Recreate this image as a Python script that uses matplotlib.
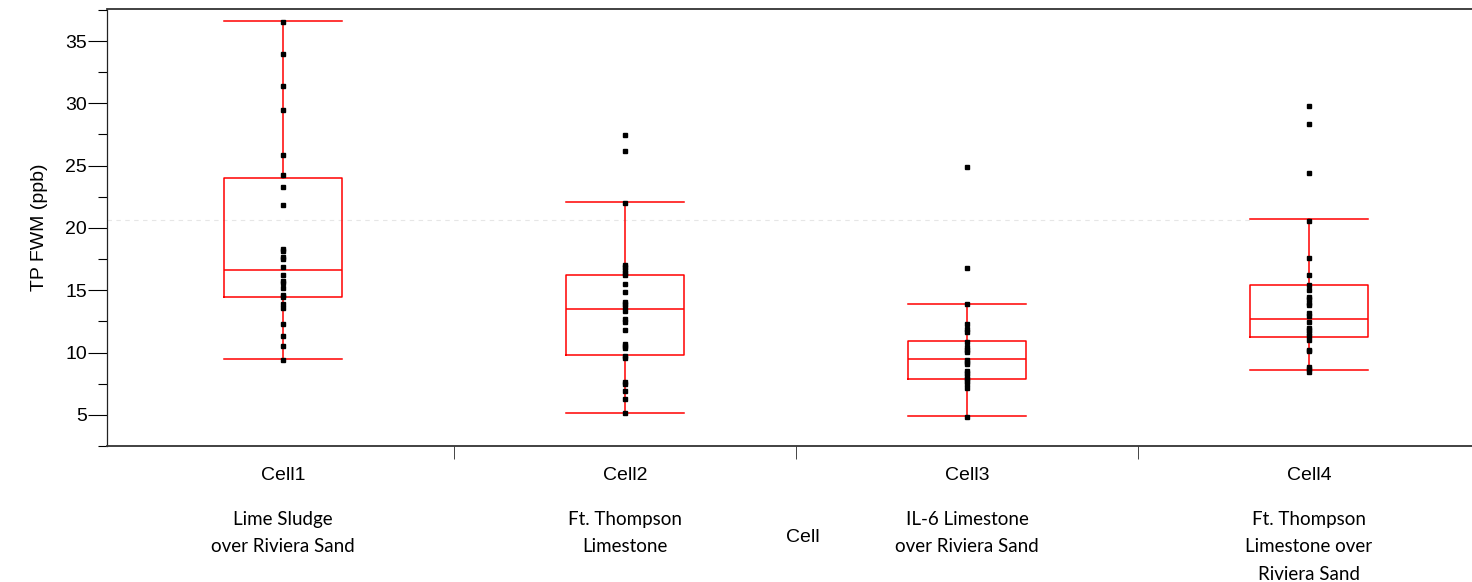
import matplotlib
matplotlib.use('Agg')
import matplotlib.pyplot as plt
import matplotlib.transforms as mtransforms
import numpy as np

plt.rcParams['font.family'] = ['Liberation Sans', 'DejaVu Sans']

# cell names, descriptions and TP values (ppb)
cells = ['Cell1', 'Cell2', 'Cell3', 'Cell4']
descr = ['Lime Sludge\nover Riviera Sand',
         'Ft. Thompson\nLimestone',
         'IL-6 Limestone\nover Riviera Sand',
         'Ft. Thompson\nLimestone over\nRiviera Sand']

cell1 = [36.5, 33.96, 31.39, 29.49, 25.83, 24.23, 23.27, 21.85, 18.30, 18.18, 17.65,
         17.54, 16.90, 16.26, 15.75, 15.62, 15.14, 14.65, 14.49, 13.91, 13.59, 12.31,
         11.34, 10.54, 9.42]
cell2 = [27.44, 26.15, 22.03, 17.06, 16.88, 16.64, 16.42, 16.21, 15.49, 14.85, 14.07,
         13.89, 13.64, 13.37, 12.73, 12.46, 11.82, 10.65, 10.49, 10.33, 9.72, 9.58,
         7.65, 7.49, 6.88, 6.24, 5.11]
cell3 = [24.90, 16.77, 13.88, 12.31, 11.85, 11.66, 10.86, 10.44, 10.22, 10.06, 9.42,
         9.21, 9.05, 8.51, 8.32, 8.12, 7.90, 7.68, 7.47, 7.17, 4.79]
cell4 = [29.8, 28.37, 24.39, 20.59, 17.57, 16.26, 15.46, 14.98, 14.49, 14.33, 14.01,
         13.85, 13.21, 12.97, 12.44, 11.93, 11.77, 11.53, 11.29, 11.00, 10.22, 10.09,
         8.83, 8.70, 8.43]
points = [cell1, cell2, cell3, cell4]

# box summary (whisker low, q1, median, q3, whisker high)
whislo = [9.50, 5.17, 4.87, 8.56]
q1 = [14.44, 9.80, 7.90, 11.24]
med = [16.66, 13.48, 9.47, 12.68]
q3 = [23.99, 16.21, 10.89, 15.41]
whishi = [36.58, 22.09, 13.93, 20.70]

ref_line = 20.65

fig = plt.figure(figsize=(14.72, 5.82), dpi=100)
ax = fig.add_axes([107/1472, 1-446/582, 1-107/1472, 437/582])

stats = []
for i in range(len(cells)):
    stats.append({'whislo': whislo[i], 'q1': q1[i], 'med': med[i], 'q3': q3[i],
                  'whishi': whishi[i], 'fliers': [], 'label': cells[i]})

bw = 0.343
red = dict(color='#ff0000', linewidth=1.1)
ax.bxp(stats, positions=range(len(cells)), widths=bw, showfliers=False,
       boxprops=red, medianprops=red, whiskerprops=red, capprops=red, capwidths=bw)

for i, vals in enumerate(points):
    ax.plot([i]*len(vals), vals, 's', color='black', markersize=2.8, zorder=5)

xlo, xhi = -0.515, 3.477
ax.set_xlim(xlo, xhi)
ax.set_ylim(2.51, 37.57)

# faint dashed reference line, ending at the Cell4 cap
ax.axhline(ref_line, xmin=0, xmax=(3 - bw/2 - xlo)/(xhi - xlo), color='#e6e6e6',
           linestyle=(0, (4, 4)), linewidth=0.8, zorder=0)

ax.spines['right'].set_visible(False)
for s in ['top', 'bottom']:
    ax.spines[s].set_color('#333333')
    ax.spines[s].set_linewidth(1.3)
ax.spines['left'].set_color('#222222')
ax.spines['left'].set_linewidth(0.9)

ax.set_yticks([5, 10, 15, 20, 25, 30, 35])
ax.set_yticks(np.arange(2.5, 38, 2.5), minor=True)
ax.tick_params(axis='y', which='major', length=13.5, width=0.8, labelsize=14, pad=1)
ax.tick_params(axis='y', which='minor', length=6.5, width=0.8)

ax.set_xticks(range(len(cells)))
ax.set_xticklabels(cells)
ax.set_xticks([0.5, 1.5, 2.5], minor=True)
ax.tick_params(axis='x', which='major', length=0, labelsize=14, pad=15)
ax.tick_params(axis='x', which='minor', length=9.5, width=0.7, color='#444444')

ax.set_ylabel('TP FWM (ppb)', fontsize=14, labelpad=12)

trans = mtransforms.blended_transform_factory(ax.transData, ax.transAxes)
for i, d in enumerate(descr):
    ax.text(i, -0.148, d, transform=trans, ha='center', va='top', fontsize=13.5,
            family=['Lato', 'DejaVu Sans'], linespacing=1.75)
ax.text(1.52, -0.209, 'Cell', transform=trans, ha='center', va='center', fontsize=14)

plt.savefig('out.png', dpi=100)
